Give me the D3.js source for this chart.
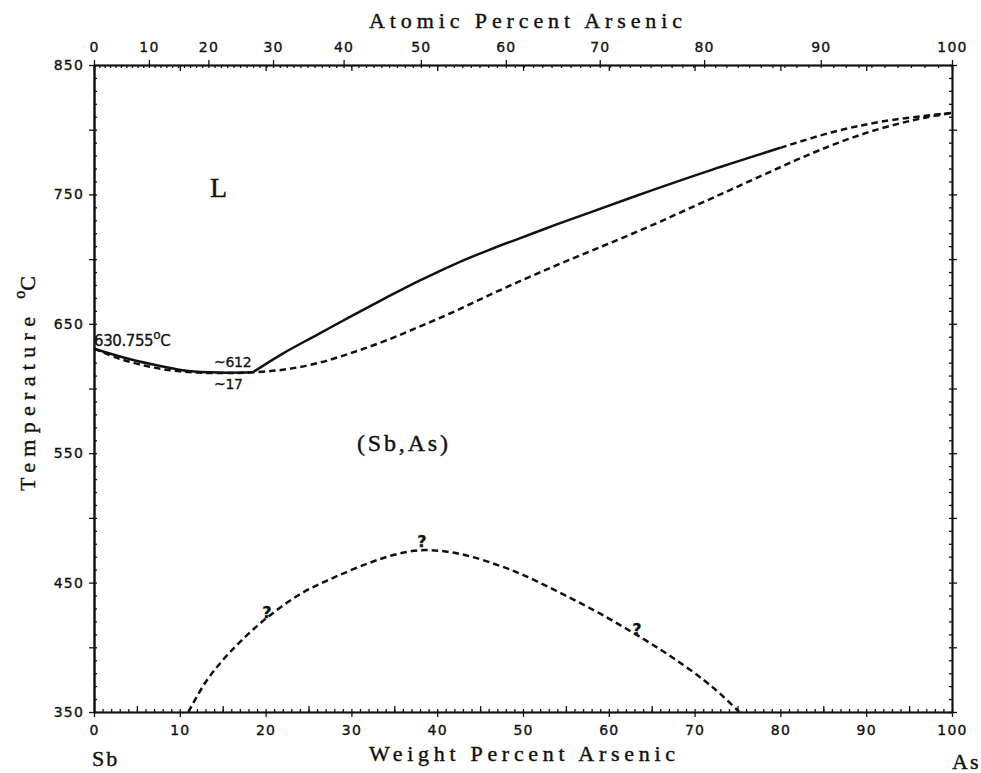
<!DOCTYPE html>
<html><head><meta charset="utf-8">
<script src="https://cdn.jsdelivr.net/npm/d3@7"></script>
<style>
body{margin:0;background:#fff;}
svg{display:block;}
.tick text{font-family:"DejaVu Sans",sans-serif;font-size:14px;fill:#111;stroke:#111;stroke-width:0.35px;letter-spacing:1.2px;}
</style></head>
<body>
<svg id="chart" width="981" height="773"></svg>
<script>
// ---- data (weight % As, temperature °C) ----
const wtTicks = [0,10,20,30,40,50,60,70,80,90,100];
const atTicks = [0,10,20,30,40,50,60,70,80,90,100];
const tempTicks = [350,450,550,650,750,850];

// liquidus, solid part (two branches meeting at the minimum)
const liqLowWt = [0, 4, 8, 11, 14.5, 18.5];
const liqLowT  = [630.755, 623, 617, 613.5, 612.3, 612.5];
const liqUpWt  = [18.5, 22, 26, 30, 34, 38, 42, 46, 50, 54, 58, 64.5, 72, 80];
const liqUpT   = [612.5, 627, 641.5, 656, 670, 683.5, 696, 707, 717, 727, 736.5, 752, 769, 786];
// liquidus, dashed continuation
const liqDashWt = [80, 86, 92, 100];
const liqDashT  = [786, 798, 806.5, 813];
// solidus (dashed)
const solWt = [0, 3, 6, 9, 12, 15, 18, 22, 26, 30, 34, 38, 42, 46, 50, 54, 58, 62, 66, 70, 74, 78, 82, 86, 90, 94, 97, 100];
const solT  = [630.755, 623, 617.5, 614, 612.3, 612, 612.3, 614.5, 619.5, 627.5, 637, 648, 659.5, 672, 684, 695.5, 706.5, 717.5, 729, 741, 753, 765, 777, 788, 797.5, 805, 809.5, 813];
// miscibility gap (dashed)
const gapWt = [11, 13, 15, 17, 20, 24, 28, 32, 35, 38, 41, 44, 47.3, 50, 53, 56, 59, 62, 65, 68, 71, 73, 75.2];
const gapT  = [350, 373, 390, 404, 422, 441, 454, 465, 471.5, 475, 474, 470, 463, 456, 446.5, 436.5, 426, 414.5, 402.5, 389.5, 375, 364, 350];

const MAs = 74.9216, MSb = 121.76;
function atToWt(a){ return 100*a*MAs/(a*MAs + (100-a)*MSb); }

// ---- layout ----
const L=94, R=952, T=65, B=712;
const svg = d3.select("#chart");
const x = d3.scaleLinear().domain([0,100]).range([L,R]);
const y = d3.scaleLinear().domain([350,850]).range([B,T]);
const atDom = d3.range(0,101,1);
const xAt = d3.scaleLinear().domain(atDom).range(atDom.map(a=>x(atToWt(a))));

const ax = svg.append("g");
function styleAxis(g){
  g.selectAll(".domain").attr("stroke","#111").attr("stroke-width",1.7);
  g.selectAll(".tick line").attr("stroke","#111").attr("stroke-width",1.3);
  return g;
}
// bottom (weight %)
styleAxis(ax.append("g").attr("transform",`translate(0,${B})`)
  .call(d3.axisBottom(x).tickValues(wtTicks).tickSize(5).tickSizeOuter(0).tickPadding(8).tickFormat(d3.format("d"))));
styleAxis(ax.append("g").attr("transform",`translate(0,${B})`)
  .call(d3.axisTop(x).tickValues(d3.range(0,101,1)).tickSize(3).tickSizeOuter(0).tickFormat("")));
styleAxis(ax.append("g").attr("transform",`translate(0,${B})`)
  .call(d3.axisTop(x).tickValues(d3.range(5,100,10)).tickSize(6).tickSizeOuter(0).tickFormat("")));
// top (atomic %)
styleAxis(ax.append("g").attr("transform",`translate(0,${T})`)
  .call(d3.axisTop(xAt).tickValues(atTicks).tickSize(5).tickSizeOuter(0).tickPadding(8).tickFormat(d3.format("d"))));
styleAxis(ax.append("g").attr("transform",`translate(0,${T})`)
  .call(d3.axisBottom(xAt).tickValues(d3.range(0,101,1)).tickSize(3).tickSizeOuter(0).tickFormat("")));
styleAxis(ax.append("g").attr("transform",`translate(0,${T})`)
  .call(d3.axisBottom(x).tickValues(wtTicks).tickSize(6).tickSizeOuter(0).tickFormat("")));
// left
styleAxis(ax.append("g").attr("transform",`translate(${L},0)`)
  .call(d3.axisLeft(y).tickValues(tempTicks).tickSize(5).tickSizeOuter(0).tickPadding(5).tickFormat(d3.format("d"))));
styleAxis(ax.append("g").attr("transform",`translate(${L},0)`)
  .call(d3.axisLeft(y).tickValues(d3.range(400,850,100)).tickSize(5).tickSizeOuter(0).tickFormat("")));
styleAxis(ax.append("g").attr("transform",`translate(${L},0)`)
  .call(d3.axisRight(y).tickValues(d3.range(350,851,10)).tickSize(3).tickSizeOuter(0).tickFormat("")));
// right
styleAxis(ax.append("g").attr("transform",`translate(${R},0)`)
  .call(d3.axisRight(y).tickValues(d3.range(350,851,50)).tickSize(5).tickSizeOuter(0).tickFormat("")));
styleAxis(ax.append("g").attr("transform",`translate(${R},0)`)
  .call(d3.axisLeft(y).tickValues(d3.range(350,851,10)).tickSize(3).tickSizeOuter(0).tickFormat("")));

// ---- curves ----
const line = d3.line().x(d=>x(d[0])).y(d=>y(d[1])).curve(d3.curveCatmullRom.alpha(0.5));
const zip = (a,b)=>a.map((v,i)=>[v,b[i]]);
const plot = svg.append("g").attr("fill","none").attr("stroke","#111").attr("stroke-linecap","butt");
const dash = "6.5,4";
plot.append("path").attr("d",line(zip(solWt,solT))).attr("stroke-width",2.5).attr("stroke-dasharray",dash);
plot.append("path").attr("d",line(zip(liqLowWt,liqLowT))).attr("stroke-width",2.5);
plot.append("path").attr("d",line(zip(liqUpWt,liqUpT))).attr("stroke-width",2.5);
plot.append("path").attr("d",line(zip(liqDashWt,liqDashT))).attr("stroke-width",2.5).attr("stroke-dasharray",dash);
plot.append("path").attr("d",line(zip(gapWt,gapT))).attr("stroke-width",2.5).attr("stroke-dasharray",dash);

// ---- text ----
const serif = "'Liberation Serif','DejaVu Serif',serif";
const txt = svg.append("g").attr("fill","#111").attr("stroke","#111").attr("stroke-width",0.4);
txt.append("text").attr("x",369).attr("y",28).attr("font-family",serif).attr("font-size",22)
  .attr("textLength",313).attr("lengthAdjust","spacing").text("Atomic Percent Arsenic");
txt.append("text").attr("x",369).attr("y",761).attr("font-family",serif).attr("font-size",22)
  .attr("textLength",306).attr("lengthAdjust","spacing").text("Weight Percent Arsenic");
txt.append("text").attr("x",92).attr("y",766).attr("font-family",serif).attr("font-size",22)
  .attr("letter-spacing",2).text("Sb");
txt.append("text").attr("x",952).attr("y",769).attr("font-family",serif).attr("font-size",22)
  .attr("letter-spacing",2).text("As");
const yt = txt.append("text").attr("transform","translate(35,491) rotate(-90)")
  .attr("font-family",serif).attr("font-size",22);
yt.append("tspan").attr("textLength",174).attr("lengthAdjust","spacing").text("Temperature");
yt.append("tspan").attr("dx",12).attr("dy",-10).attr("font-size",16).text("o");
yt.append("tspan").attr("dy",10).text("C");

txt.append("text").attr("x",210).attr("y",197).attr("font-family",serif).attr("font-size",28).text("L");
txt.append("text").attr("x",357).attr("y",451).attr("font-family",serif).attr("font-size",24)
  .attr("textLength",91).attr("lengthAdjust","spacing").text("(Sb,As)");

const sans = "'DejaVu Sans',sans-serif";
const small = svg.append("g").attr("fill","#111").attr("stroke","#111").attr("stroke-width",0.3);
const mp = small.append("text").attr("x",94).attr("y",346).attr("font-family",sans).attr("font-size",15).attr("letter-spacing",-0.4);
mp.append("tspan").text("630.755");
mp.append("tspan").attr("dy",-7).attr("font-size",12).text("o");
mp.append("tspan").attr("dy",7).text("C");
small.append("text").attr("x",214).attr("y",367).attr("font-family",sans).attr("font-size",14).attr("letter-spacing",-0.3).text("~612");
small.append("text").attr("x",214).attr("y",389).attr("font-family",sans).attr("font-size",14).attr("letter-spacing",-0.3).text("~17");
[[267,618],[422,547],[637,635]].forEach(p=>{
  small.append("text").attr("x",p[0]).attr("y",p[1]).attr("text-anchor","middle")
    .attr("font-family",sans).attr("font-size",16).attr("font-weight","bold").text("?");
});
</script>
</body></html>
